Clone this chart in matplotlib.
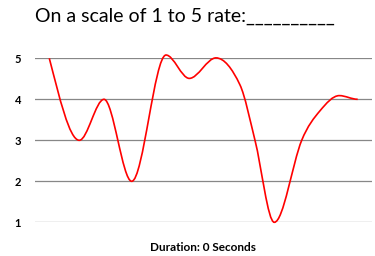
import numpy as np
import matplotlib
matplotlib.use("Agg")
import matplotlib.pyplot as plt
from matplotlib.path import Path
from matplotlib.patches import PathPatch

# Data: time positions (arbitrary units) and ratings
times = [14.3, 44.3, 69.0, 96.7, 131.0, 154.3, 181.0, 205.0, 220.0,
         239.3, 266.7, 285.0, 304.3, 322.7]
ratings = [5.0, 3.0, 4.0, 2.0, 5.08, 4.51, 5.01, 4.35, 3.0,
           1.0, 3.0, 3.72, 4.09, 4.0]
y_ticks = [1, 2, 3, 4, 5]
title = "On a scale of 1 to 5 rate:__________"
xlabel = "Duration: 0 Seconds"

plt.rcParams['font.family'] = ['Lato', 'DejaVu Sans']

fig = plt.figure(figsize=(3.75, 2.56), dpi=100)
ax = fig.add_axes([35/375, 33.7/256, 337/375, 164/256])
ax.set_xlim(0, 337)
ax.set_ylim(1, 5)

for yv in y_ticks:
    ax.axhline(yv, color="#878787", lw=0.9, zorder=1)

# smooth line through the points as a cubic Bezier path (Catmull-Rom style tangents,
# flat at local extrema)
x = np.array(times, float)
y = np.array(ratings, float)
n = len(x)
h = np.diff(x)
d = np.diff(y) / h
m = np.zeros(n)
for i in range(1, n - 1):
    if d[i-1] * d[i] <= 0:
        m[i] = 0.0
    else:
        m[i] = (y[i+1] - y[i-1]) / (x[i+1] - x[i-1])
m[0] = d[0] * 1.4
m[-1] = 0.0
verts = [(x[0], y[0])]
codes = [Path.MOVETO]
for i in range(n - 1):
    verts += [(x[i] + h[i]/3, y[i] + m[i]*h[i]/3),
              (x[i+1] - h[i]/3, y[i+1] - m[i+1]*h[i]/3),
              (x[i+1], y[i+1])]
    codes += [Path.CURVE4] * 3
patch = PathPatch(Path(verts, codes), fill=False, edgecolor="#ff0000",
                  lw=1.2, transform=ax.transData, clip_on=False, zorder=3)
ax.add_patch(patch)

ax.set_yticks(y_ticks)
ax.set_yticklabels([str(v) for v in y_ticks], fontweight="bold", fontsize=8)
ax.tick_params(axis="y", length=0, pad=10)
ax.set_xticks([])
for s in ax.spines.values():
    s.set_visible(False)

fig.text(0.493, 0.935, title, ha="center", va="center", fontsize=14)
fig.text(0.541, 0.033, xlabel, ha="center", va="center", fontsize=8.5, fontweight="bold")

fig.savefig("out.png", dpi=100)
